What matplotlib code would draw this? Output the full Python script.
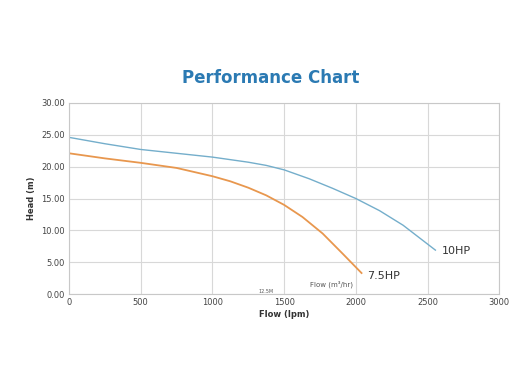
import matplotlib
matplotlib.use("Agg")
import matplotlib.pyplot as plt

flow_10hp = [0, 250, 500, 750, 1000, 1250, 1375, 1500, 1675, 1838, 2000, 2165, 2330, 2555]
head_10hp = [24.6, 23.6, 22.7, 22.1, 21.5, 20.7, 20.2, 19.5, 18.1, 16.6, 15.0, 13.1, 10.8, 6.9]
flow_75hp = [0, 250, 500, 750, 1000, 1125, 1250, 1375, 1500, 1628, 1769, 1910, 2040]
head_75hp = [22.1, 21.3, 20.6, 19.8, 18.5, 17.7, 16.7, 15.5, 14.0, 12.1, 9.5, 6.3, 3.3]
xticks = [0, 500, 1000, 1500, 2000, 2500, 3000]
yticks = [0, 5, 10, 15, 20, 25, 30]

fig = plt.figure(figsize=(5.2, 3.9), dpi=100)
ax = fig.add_axes([0.1327, 0.246, 0.8273, 0.49])
ax.plot(flow_10hp, head_10hp, color="#74aecb", lw=1.0, solid_joinstyle="round")
ax.plot(flow_75hp, head_75hp, color="#e8974e", lw=1.3, solid_joinstyle="round")
ax.set_xlim(0, 3000)
ax.set_ylim(0, 30)
ax.set_xticks(xticks)
ax.set_yticks(yticks)
ax.set_xticklabels([str(t) for t in xticks], fontsize=6, color="#444444")
ax.set_yticklabels([f"{t:.2f}" for t in yticks], fontsize=6, color="#444444")
ax.tick_params(length=0, pad=3)
ax.grid(True, color="#d8d8d8", lw=0.8)
for s in ax.spines.values():
    s.set_color("#c8c8c8")
    s.set_linewidth(0.8)
ax.set_xlabel("Flow (lpm)", fontsize=6, fontweight="bold", color="#333333", labelpad=2)
ax.set_ylabel("Head (m)", fontsize=6, fontweight="bold", color="#333333", labelpad=4)
ax.text(2600, 6.7, "10HP", fontsize=8, color="#333333", va="center")
ax.text(2080, 2.8, "7.5HP", fontsize=8, color="#333333", va="center")
ax.text(1680, 1.6, "Flow (m³/hr)", fontsize=5, color="#555555", va="center")
ax.text(1320, 0.05, "12.5M", fontsize=3.5, color="#555555", va="bottom")
fig.text(0.521, 0.80, "Performance Chart", fontsize=12, fontweight="bold",
         color="#2b7ab3", ha="center", va="center")
fig.savefig("out.png", dpi=100, facecolor="white")
